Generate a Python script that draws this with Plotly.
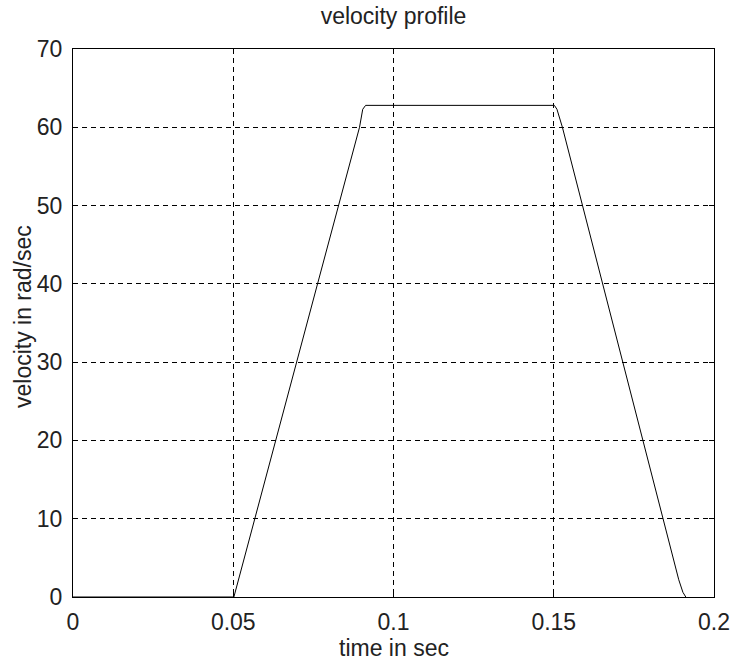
import plotly.graph_objects as go

# time (s) and velocity (rad/s)
time_s = [0.0, 0.0502, 0.0763, 0.0894, 0.0904, 0.0913, 0.1502, 0.1510, 0.1527, 0.1653, 0.1890, 0.1903, 0.1912]
velocity = [0.0, 0.0, 40.0, 60.0, 62.3, 62.8, 62.8, 62.3, 60.0, 40.0, 2.2, 0.6, 0.0]

x_ticks = [0, 0.05, 0.1, 0.15, 0.2]
x_tick_labels = ["0", "0.05", "0.1", "0.15", "0.2"]
y_ticks = [0, 10, 20, 30, 40, 50, 60, 70]

FONT = "Liberation Sans, Arial, sans-serif"
TXT = "#222"

fig = go.Figure()
fig.add_trace(go.Scatter(x=time_s, y=velocity, mode="lines",
                         line=dict(color="black", width=1), showlegend=False))

axis_common = dict(
    showline=True, linecolor="black", linewidth=1, mirror="ticks",
    ticks="inside", ticklen=5, tickcolor="black", tickwidth=1,
    showgrid=True, gridcolor="black", gridwidth=1, griddash="5px,4px",
    zeroline=False, automargin=False,
    tickfont=dict(family=FONT, size=23, color=TXT),
)

fig.update_layout(
    width=732, height=660,
    margin=dict(l=73, r=18, t=49, b=63),
    paper_bgcolor="white", plot_bgcolor="white",
    title=dict(text="velocity profile", x=0.5, xanchor="center", xref="paper",
               y=1 - 16 / 660, yanchor="middle",
               font=dict(family=FONT, size=23, color=TXT)),
    xaxis=dict(range=[0, 0.2], tickvals=x_ticks, ticktext=x_tick_labels,
               ticklabelstandoff=4, **axis_common),
    yaxis=dict(range=[0, 70], tickvals=y_ticks, ticklabelstandoff=5,
               **axis_common),
    annotations=[
        dict(text="time in sec", xref="paper", yref="paper", x=0.5, y=0,
             xanchor="center", yanchor="middle", yshift=-51, showarrow=False,
             font=dict(family=FONT, size=23, color=TXT)),
        dict(text="velocity in rad/sec", xref="paper", yref="paper", x=0, y=0.5,
             xanchor="center", yanchor="middle", xshift=-50, yshift=6,
             textangle=-90, showarrow=False,
             font=dict(family=FONT, size=23, color=TXT)),
    ],
)

fig.write_html("out.html")
